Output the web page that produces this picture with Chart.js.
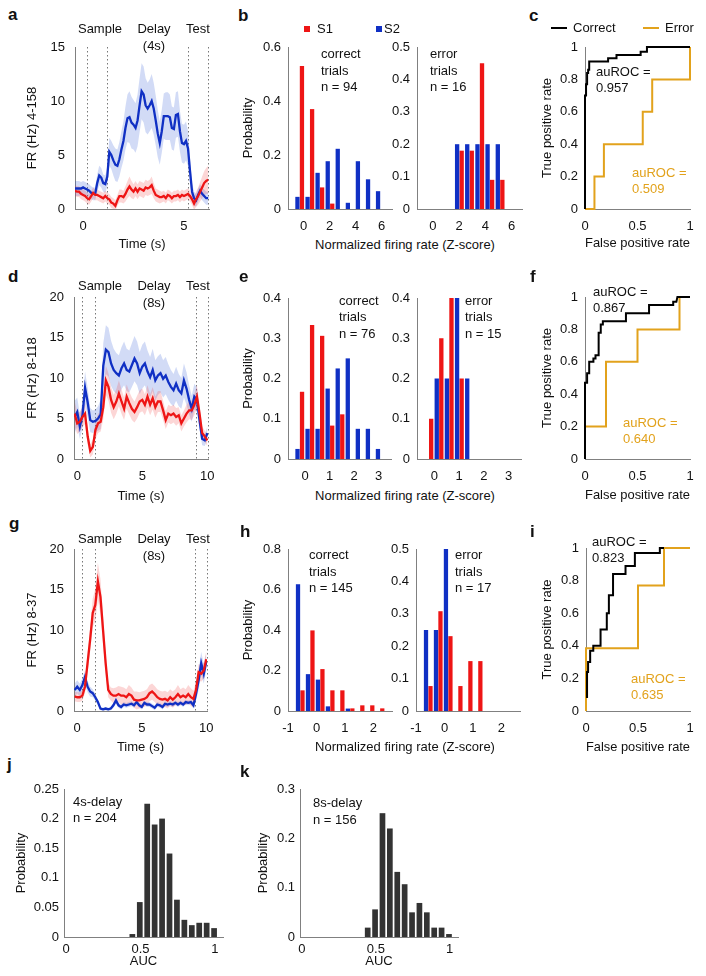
<!DOCTYPE html>
<html>
<head>
<meta charset="utf-8">
<script src="https://cdn.jsdelivr.net/npm/chart.js@4.4.1/dist/chart.umd.min.js"></script>
<style>
  body { margin: 0; width: 706px; height: 976px; position: relative; overflow: hidden; background: #fff;
         font-family: "Liberation Sans", Arial, sans-serif; color: #111; }
  canvas { position: absolute; }
  .t { position: absolute; font-size: 13px; line-height: 16px; white-space: nowrap; }
  .lt { position: absolute; font-size: 17px; line-height: 17px; font-weight: bold; }
  .sq { position: absolute; width: 6px; height: 6px; }
  .ln { position: absolute; width: 16px; height: 2px; }
</style>
</head>
<body>
<script>
// ---------- data ----------
// a: 4 s delay neuron, firing rate (Hz), S1 = red, S2 = blue
const aTime = seq(-0.4, 6.2, 0.1);
const aS1 = [1.7,1.6,1.6,1.4,1.3,1.2,1.0,0.9,1.2,1.5,1.3, 1.3,1.2,1.1,1.0,1.2,1.0, 0.9,0.6,0.5,0.3,0.8,1.2,1.2,1.1,
  1.4,1.8,2.1,1.8,1.6,1.9,1.6,1.9,1.8,1.7, 2.0,1.9,2.0,2.2,1.7,1.3,1.2,1.1,1.1,1.2, 1.0,1.3,1.2,1.0,1.2,1.2,1.3,1.1,1.3,1.2,
  1.3,1.4,1.2,0.9,0.5,0.9,1.2,1.6,2.0,2.4,2.6,2.7];
const aS1Sem = [0.5,0.5,0.5,0.5,0.5,0.5,0.5,0.5,0.5,0.5,0.5, 0.5,0.5,0.5,0.5,0.5,0.5, 0.5,0.5,0.5,0.5,0.5,0.6,0.6,0.6,
  0.7,0.8,0.9,0.8,0.7,0.7,0.7,0.7,0.7,0.7, 0.7,0.7,0.7,0.8,0.7,0.6,0.6,0.6,0.5,0.5, 0.5,0.5,0.5,0.5,0.5,0.5,0.5,0.5,0.5,0.5,
  0.5,0.5,0.5,0.5,0.6,0.7,0.8,0.9,1.0,1.1,1.2,1.3];
const aS2 = [1.9,1.9,1.9,1.9,2.0,1.9,1.8,1.7,1.5,1.4,1.4, 2.4,3.1,2.9,2.4,2.3,3.0, 5.3,5.0,4.5,4.1,4.0,4.6,5.5,6.3,
  7.5,8.4,8.5,8.0,7.8,7.5,8.2,9.6,10.9,10.6, 9.6,9.3,9.6,10.0,9.3,8.2,7.0,6.1,7.2,8.6, 8.6,8.6,8.5,7.5,7.4,8.7,8.8,7.2,6.1,6.0,
  6.3,5.6,3.5,1.6,1.0,0.8,1.3,1.7,1.4,1.2,1.0,1.0];
const aS2Sem = [0.7,0.7,0.7,0.6,0.6,0.6,0.6,0.6,0.6,0.6,0.6, 0.8,0.9,0.9,0.8,0.8,0.9, 1.3,1.3,1.4,1.5,1.5,1.6,1.7,1.8,
  2.0,2.2,2.4,2.4,2.3,2.3,2.4,2.5,2.6,2.6, 2.5,2.4,2.4,2.5,2.4,2.3,2.2,2.0,2.0,2.1, 2.2,2.2,2.1,2.0,2.0,2.1,2.1,1.9,1.8,1.8,
  1.8,1.6,1.2,0.8,0.6,0.6,0.6,0.6,0.6,0.6,0.6,0.6];
const aEvents = [0.2, 1.2, 5.2, 6.2];

// d: 8 s delay neuron 8-118
const dTime = seq(-0.2, 10.0, 0.2);
const dS1 = [5.6,4.4,4.6,5.2,5.6,2.8,1.0,1.5,3.6,4.4,4.6, 6.4,9.7,8.9,7.3,6.4,7.1,8.1,7.1,6.2,7.7,6.9,
  6.2,5.8,6.4,7.1,7.3,6.7,7.7,6.7,7.5,6.4,7.1, 7.1,6.0,4.8,5.6,5.4,5.6,5.2,5.4,4.4,5.0,5.6, 6.0,6.0,6.7,7.7,5.6,3.2,2.8,2.3];
const dS1Sem = [1.6,1.3,1.2,1.2,1.3,1.0,0.8,0.9,1.1,1.2,1.2, 1.5,1.8,1.7,1.6,1.5,1.5,1.6,1.5,1.4,1.5,1.4,
  1.4,1.3,1.4,1.4,1.4,1.3,1.4,1.3,1.4,1.3,1.3, 1.3,1.2,1.1,1.1,1.1,1.1,1.1,1.0,1.0,1.0,1.1, 1.1,1.2,1.3,1.4,1.2,0.8,0.7,0.7];
const dS2 = [5.2,5.8,4.0,5.4,8.8,7.0,4.8,4.6,4.7,5.0,5.5, 11.5,13.5,13.2,11.8,11.0,10.6,10.3,11.2,11.8,11.0,10.8,
  11.6,12.4,11.8,10.6,11.4,11.8,10.8,10.1,11.0,9.7,10.3, 10.6,9.9,10.3,9.5,8.9,8.5,9.3,8.5,8.1,9.7,8.7, 7.3,6.2,7.7,7.3,4.8,2.5,2.3,3.2];
const dS2Sem = [2.0,1.8,1.5,1.6,2.0,1.8,1.5,1.4,1.4,1.5,1.8, 2.8,3.0,3.0,2.8,2.6,2.5,2.5,2.6,2.7,2.6,2.6,
  2.7,2.8,2.7,2.6,2.7,2.7,2.6,2.5,2.6,2.5,2.4, 2.4,2.3,2.3,2.2,2.1,2.0,2.1,2.0,1.9,2.1,2.0, 1.8,1.6,1.6,1.5,1.2,0.8,0.7,0.8];
const dEvents = [0.4, 1.37, 9.1, 10.05];

// g: 8 s delay neuron 8-37
const gTime = seq(-0.2, 10.0, 0.2);
const gS1 = [1.8,1.7,1.7,1.9,3.0,5.9,8.8,12.1,13.1,16.0,14.1, 10.0,5.9,2.6,2.1,1.9,1.9,2.1,1.9,1.9,1.7,2.1,
  1.9,1.4,1.3,1.3,1.4,1.5,1.7,2.2,2.4,2.1,1.7, 1.5,1.4,1.5,1.3,1.7,1.4,1.7,2.1,1.7,1.9,1.7, 2.1,1.7,1.5,2.6,4.8,4.6,5.0,6.4];
const gS1Sem = [0.6,0.6,0.6,0.6,0.8,1.2,1.5,1.8,2.0,2.3,2.2, 1.8,1.2,0.9,0.8,0.9,1.0,1.0,1.1,1.0,1.0,1.1,
  1.0,1.0,1.1,1.0,1.0,1.0,1.0,1.0,1.0,1.0,1.0, 1.0,1.0,1.0,1.0,1.0,1.0,1.0,1.1,1.0,1.0,1.0, 1.1,1.1,1.0,1.0,1.0,1.0,1.0,1.0];
const gS2 = [2.6,3.0,2.6,3.2,4.2,3.0,2.4,2.2,1.7,1.1,0.3, 0.2,0.3,0.2,0.3,0.7,1.3,0.7,0.5,0.8,0.7,0.8,
  0.9,0.7,1.1,0.7,0.5,1.0,0.8,0.8,0.6,0.4,0.8, 0.7,0.5,0.9,0.8,0.9,0.8,1.0,0.8,1.0,0.8,1.1, 1.0,1.1,0.7,2.1,3.8,5.9,4.6,6.1];
const gS2Sem = [0.8,0.8,0.8,0.8,0.8,0.7,0.6,0.5,0.4,0.3,0.2, 0.2,0.2,0.2,0.2,0.3,0.4,0.3,0.3,0.3,0.3,0.3,
  0.3,0.3,0.3,0.3,0.3,0.3,0.3,0.3,0.3,0.3,0.3, 0.3,0.3,0.3,0.3,0.3,0.3,0.3,0.3,0.3,0.3,0.3, 0.3,0.3,0.4,0.8,1.2,1.4,1.2,1.0];
const gEvents = [0.4, 1.37, 9.1, 10.05];

// b, e, h: histograms of normalized firing rate (z-score bin centres)
const bBins = [-0.3, 0.48, 1.25, 2.03, 2.8, 3.58, 4.35, 5.13, 5.9];
const bCorrectS1 = [0.53, 0.37, 0.08, 0.02, 0, 0, 0, 0, 0];
const bCorrectS2 = [0.045, 0.045, 0.134, 0.177, 0.223, 0.023, 0.177, 0.11, 0.066];
const bErrorS1 = [0, 0, 0, 0.18, 0.18, 0.45, 0.09, 0.09, 0];
const bErrorS2 = [0, 0, 0, 0.2, 0.2, 0.2, 0.2, 0.2, 0];

const eBins = [-0.22, 0.19, 0.6, 1.01, 1.42, 1.83, 2.24, 2.65, 3.06];
const eCorrectS1 = [0.167, 0.333, 0.306, 0.083, 0.111, 0, 0, 0, 0];
const eCorrectS2 = [0.025, 0.075, 0.075, 0.175, 0.225, 0.25, 0.075, 0.075, 0.025];
const eErrorS1 = [0.1, 0.3, 0.4, 0.2, 0, 0, 0, 0, 0];
const eErrorS2 = [0, 0.2, 0.2, 0.4, 0.2, 0, 0, 0, 0];

const hBins = [-0.57, -0.22, 0.13, 0.48, 0.83, 1.18, 1.53, 1.88, 2.23];
const hCorrectS1 = [0.102, 0.398, 0.207, 0.102, 0.102, 0.013, 0.028, 0.028, 0.013];
const hCorrectS2 = [0.626, 0.182, 0.155, 0.023, 0, 0.012, 0, 0, 0];
const hErrorS1 = [0.077, 0.308, 0.231, 0.077, 0.154, 0.154, 0, 0, 0];
const hErrorS2 = [0.25, 0.25, 0.5, 0, 0, 0, 0, 0, 0];

// c, f, i: ROC curves (false positive rate, true positive rate)
const cCorrectFpr = [0, 0, 0.01, 0.01, 0.02, 0.02, 0.03, 0.03, 0.04, 0.04, 0.22, 0.22, 0.3, 0.3, 0.53, 0.53, 0.59, 0.59, 1];
const cCorrectTpr = [0, 0.7, 0.7, 0.77, 0.77, 0.84, 0.84, 0.86, 0.86, 0.91, 0.91, 0.93, 0.93, 0.95, 0.95, 0.97, 0.97, 1, 1];
const cErrorFpr = [0, 0.09, 0.09, 0.18, 0.18, 0.55, 0.55, 0.64, 0.64, 1, 1];
const cErrorTpr = [0, 0, 0.2, 0.2, 0.4, 0.4, 0.6, 0.6, 0.8, 0.8, 1];

const fCorrectFpr = [0, 0, 0.02, 0.02, 0.04, 0.04, 0.08, 0.08, 0.1, 0.1, 0.13, 0.13, 0.15, 0.15, 0.17, 0.17, 0.39, 0.39, 0.61, 0.61, 0.84, 0.84, 0.87, 0.88, 1];
const fCorrectTpr = [0, 0.47, 0.47, 0.53, 0.53, 0.6, 0.6, 0.62, 0.62, 0.64, 0.64, 0.78, 0.78, 0.83, 0.83, 0.85, 0.85, 0.9, 0.9, 0.95, 0.95, 0.97, 0.97, 1, 1];
const fErrorFpr = [0, 0, 0.2, 0.2, 0.5, 0.5, 0.9, 0.9, 1];
const fErrorTpr = [0, 0.2, 0.2, 0.6, 0.6, 0.8, 0.8, 1, 1];

const iCorrectFpr = [0.01, 0.01, 0.02, 0.02, 0.04, 0.04, 0.07, 0.07, 0.14, 0.14, 0.2, 0.2, 0.22, 0.22, 0.26, 0.26, 0.38, 0.38, 0.47, 0.47, 0.71, 0.71, 0.75];
const iCorrectTpr = [0.08, 0.24, 0.24, 0.3, 0.3, 0.37, 0.37, 0.4, 0.4, 0.5, 0.5, 0.6, 0.6, 0.71, 0.71, 0.84, 0.84, 0.89, 0.89, 0.97, 0.97, 1, 1];
const iErrorFpr = [0, 0, 0.5, 0.5, 0.75, 0.75, 1];
const iErrorTpr = [0, 0.385, 0.385, 0.77, 0.77, 1, 1];

// j, k: AUC distributions
const aucBins = [0.445, 0.495, 0.545, 0.595, 0.645, 0.695, 0.745, 0.795, 0.845, 0.895, 0.945, 0.995];
const jProb4s = [0.005, 0.059, 0.225, 0.19, 0.2, 0.141, 0.063, 0.029, 0.02, 0.024, 0.024, 0.015];
const kProb8s = [0.019, 0.056, 0.251, 0.22, 0.132, 0.107, 0.05, 0.069, 0.05, 0.019, 0.019, 0.006];

// ---------- styling ----------
const RED = '#ee1515', BLUE = '#1030c4';
const RED_BAND = 'rgba(240,50,50,0.2)', BLUE_BAND = 'rgba(50,90,215,0.22)';
const ORANGE = '#e2a21c', AXIS = '#808080', GREY_BAR = '#333';

Chart.defaults.font.family = '"Liberation Sans", Arial, sans-serif';
Chart.defaults.font.size = 13;
Chart.defaults.color = '#111';

function seq(a, b, step) {
  const out = [];
  for (let v = a; v <= b + step / 2; v += step) out.push(Math.round(v * 100) / 100);
  return out;
}

function fmt(v) { return String(Math.round(v * 1000) / 1000); }

function axis(range, ticks, size, title, isX, pad) {
  return {
    type: 'linear', min: range[0], max: range[1], offset: false,
    afterBuildTicks: s => { s.ticks = ticks.map(v => ({ value: v })); },
    afterFit: s => { if (isX) s.height = size; else s.width = size; },
    grid: { display: false, drawTicks: false, offset: false },
    border: { display: true, color: AXIS, width: 1 },
    ticks: { padding: pad, autoSkip: false, maxRotation: 0, callback: fmt },
    title: title ? { display: true, text: title, padding: 0 } : { display: false }
  };
}

function eventLines(events) {
  return {
    id: 'eventLines',
    beforeDatasetsDraw(chart) {
      const { ctx, chartArea, scales } = chart;
      ctx.save();
      ctx.strokeStyle = '#777';
      ctx.lineWidth = 1;
      ctx.setLineDash([1.5, 2.5]);
      events.forEach(t => {
        const x = Math.round(scales.x.getPixelForValue(t)) + 0.5;
        ctx.beginPath();
        ctx.moveTo(x, chartArea.top);
        ctx.lineTo(x, chartArea.bottom);
        ctx.stroke();
      });
      ctx.restore();
    }
  };
}

// p.l/r/t/b is the plot area on the page; canvas is padded around it
function makeChart(p, type, datasets) {
  const padT = 22, padR = 22;
  const w = p.r - p.l + p.wy + padR;
  const h = p.b - p.t + padT + p.hx;
  const cv = document.createElement('canvas');
  cv.width = w; cv.height = h;
  cv.style.left = (p.l - p.wy) + 'px';
  cv.style.top = (p.t - padT) + 'px';
  document.body.appendChild(cv);
  const xPad = p.xPad !== undefined ? p.xPad : 10;
  const yPad = p.yPad !== undefined ? p.yPad : 7;
  return new Chart(cv, {
    type: type,
    data: { datasets: datasets },
    options: {
      responsive: false, devicePixelRatio: 1, animation: false,
      layout: { padding: { top: padT, right: padR, left: 0, bottom: 0 } },
      plugins: { legend: { display: false }, tooltip: { enabled: false } },
      scales: {
        x: axis(p.xr, p.xt, p.hx, p.xTitle, true, xPad),
        y: axis(p.yr, p.yt, p.wy, p.yTitle, false, yPad)
      }
    },
    plugins: p.events ? [eventLines(p.events)] : []
  });
}

function timeSets(time, s1, s1Sem, s2, s2Sem) {
  const pts = ys => time.map((t, i) => ({ x: t, y: ys[i] }));
  const up = (m, e) => m.map((v, i) => v + e[i]);
  const lo = (m, e) => m.map((v, i) => v - e[i]);
  const line = (ys, c) => ({ data: pts(ys), borderColor: c, borderWidth: 2.3, pointRadius: 0, tension: 0, fill: false });
  const band = (ys, c, fill) => ({ data: pts(ys), borderWidth: 0, borderColor: 'rgba(0,0,0,0)', backgroundColor: c,
                                   pointRadius: 0, tension: 0, fill: fill });
  return [
    line(s1, RED), line(s2, BLUE),
    band(up(s1, s1Sem), RED_BAND, '+1'), band(lo(s1, s1Sem), RED_BAND, false),
    band(up(s2, s2Sem), BLUE_BAND, '+1'), band(lo(s2, s2Sem), BLUE_BAND, false)
  ];
}

function histSets(bins, s1, s2) {
  const pts = ys => bins.map((b, i) => ({ x: b, y: ys[i] }));
  const bar = (ys, c) => ({ data: pts(ys), backgroundColor: c, borderWidth: 0,
                            categoryPercentage: 0.9, barPercentage: 0.95, grouped: true });
  return [bar(s2, BLUE), bar(s1, RED)];
}

function aucSets(bins, ys) {
  return [{ data: bins.map((b, i) => ({ x: b, y: ys[i] })), backgroundColor: GREY_BAR, borderWidth: 0,
            categoryPercentage: 1, barPercentage: 0.77 }];
}

function rocSets(cx, cy, ex, ey) {
  const pts = (xs, ys) => xs.map((x, i) => ({ x: x, y: ys[i] }));
  return [
    { data: pts(cx, cy), borderColor: '#000', borderWidth: 2, pointRadius: 0, tension: 0, fill: false, clip: 6 },
    { data: pts(ex, ey), borderColor: ORANGE, borderWidth: 2, pointRadius: 0, tension: 0, fill: false, clip: 6 }
  ];
}

// ---------- text helpers ----------
function txt(s, x, y, color, center) {
  const d = document.createElement('div');
  d.className = 't';
  d.textContent = s;
  d.style.left = x + 'px';
  d.style.top = y + 'px';
  d.style.transform = center ? 'translate(-50%,-50%)' : 'translate(0,-50%)';
  if (color) d.style.color = color;
  document.body.appendChild(d);
}
function lines(arr, x, y, dy, color) { arr.forEach((s, i) => txt(s, x, y + i * dy, color)); }
function letter(s, x, baseline) {
  const d = document.createElement('div');
  d.className = 'lt';
  d.textContent = s;
  d.style.left = (x - 5) + 'px';
  d.style.top = (baseline - 14) + 'px';
  document.body.appendChild(d);
}
function box(cls, x, y, color) {
  const d = document.createElement('div');
  d.className = cls;
  d.style.left = x + 'px'; d.style.top = y + 'px'; d.style.background = color;
  document.body.appendChild(d);
}

// ---------- panels ----------
const yt15 = [0, 5, 10, 15], yt20 = [0, 5, 10, 15, 20];
const rocTicks = [0, 0.2, 0.4, 0.6, 0.8, 1];

makeChart({ l: 75, r: 209, t: 47, b: 209, wy: 50, hx: 43, xr: [-0.4, 6.24], yr: [0, 15], xt: [0, 5], yt: yt15, yPad: 10,
  xTitle: 'Time (s)', yTitle: 'FR (Hz) 4-158', events: aEvents }, 'line', timeSets(aTime, aS1, aS1Sem, aS2, aS2Sem));
makeChart({ l: 74, r: 208, t: 297, b: 459, wy: 49, hx: 45, xr: [-0.25, 10.05], yr: [0, 20], xt: [0, 5, 10], yt: yt20, yPad: 10,
  xTitle: 'Time (s)', yTitle: 'FR (Hz) 8-118', events: dEvents }, 'line', timeSets(dTime, dS1, dS1Sem, dS2, dS2Sem));
makeChart({ l: 74, r: 207, t: 549, b: 711, wy: 49, hx: 44, xr: [-0.25, 10.05], yr: [0, 20], xt: [0, 5, 10], yt: yt20, yPad: 10,
  xTitle: 'Time (s)', yTitle: 'FR (Hz) 8-37', events: gEvents }, 'line', timeSets(gTime, gS1, gS1Sem, gS2, gS2Sem));

makeChart({ l: 288, r: 392, t: 47, b: 209, wy: 47, hx: 26, xr: [-1.2, 6.8], yr: [0, 0.6], xt: [0, 2, 4, 6],
  yt: [0, 0.2, 0.4, 0.6], yTitle: 'Probability' }, 'bar', histSets(bBins, bCorrectS1, bCorrectS2));
makeChart({ l: 417, r: 522, t: 47, b: 209, wy: 30, hx: 26, xr: [-1.2, 6.8], yr: [0, 0.5], xt: [0, 2, 4, 6],
  yt: [0, 0.1, 0.2, 0.3, 0.4, 0.5] }, 'bar', histSets(bBins, bErrorS1, bErrorS2));
makeChart({ l: 288, r: 391, t: 298, b: 459, wy: 47, hx: 26, xr: [-0.7, 3.5], yr: [0, 0.4], xt: [0, 1, 2, 3],
  yt: [0, 0.1, 0.2, 0.3, 0.4], yTitle: 'Probability' }, 'bar', histSets(eBins, eCorrectS1, eCorrectS2));
makeChart({ l: 417, r: 521, t: 298, b: 459, wy: 30, hx: 26, xr: [-0.7, 3.5], yr: [0, 0.4], xt: [0, 1, 2, 3],
  yt: [0, 0.1, 0.2, 0.3, 0.4] }, 'bar', histSets(eBins, eErrorS1, eErrorS2));
makeChart({ l: 288, r: 392, t: 549, b: 711, wy: 47, hx: 26, xr: [-1, 2.65], yr: [0, 0.8], xt: [-1, 0, 1, 2],
  yt: [0, 0.2, 0.4, 0.6, 0.8], yTitle: 'Probability' }, 'bar', histSets(hBins, hCorrectS1, hCorrectS2));
makeChart({ l: 416, r: 520, t: 549, b: 711, wy: 30, hx: 26, xr: [-1, 2.65], yr: [0, 0.5], xt: [-1, 0, 1, 2],
  yt: [0, 0.1, 0.2, 0.3, 0.4, 0.5] }, 'bar', histSets(hBins, hErrorS1, hErrorS2));

makeChart({ l: 585, r: 690, t: 47, b: 209, wy: 45, hx: 42, xr: [0, 1], yr: [0, 1], xt: [0, 0.5, 1], yt: rocTicks,
  xTitle: 'False positive rate', yTitle: 'True positive rate' }, 'line', rocSets(cCorrectFpr, cCorrectTpr, cErrorFpr, cErrorTpr));
makeChart({ l: 585, r: 690, t: 297, b: 459, wy: 45, hx: 44, xr: [0, 1], yr: [0, 1], xt: [0, 0.5, 1], yt: rocTicks,
  xTitle: 'False positive rate', yTitle: 'True positive rate' }, 'line', rocSets(fCorrectFpr, fCorrectTpr, fErrorFpr, fErrorTpr));
makeChart({ l: 586, r: 690, t: 548, b: 711, wy: 46, hx: 44, xr: [0, 1], yr: [0, 1], xt: [0, 0.5, 1], yt: rocTicks,
  xTitle: 'False positive rate', yTitle: 'True positive rate' }, 'line', rocSets(iCorrectFpr, iCorrectTpr, iErrorFpr, iErrorTpr));

makeChart({ l: 64, r: 223, t: 789, b: 937, wy: 50, hx: 32, xr: [-0.015, 1.055], yr: [0, 0.25], xt: [0, 0.5, 1], xPad: 5, yPad: 5,
  yt: [0, 0.05, 0.1, 0.15, 0.2, 0.25], xTitle: 'AUC', yTitle: 'Probability' }, 'bar', aucSets(aucBins, jProb4s));
makeChart({ l: 300, r: 458, t: 789, b: 937, wy: 44, hx: 32, xr: [-0.013, 1.056], yr: [0, 0.3], xt: [0, 0.5, 1], xPad: 5, yPad: 5,
  yt: [0, 0.1, 0.2, 0.3], xTitle: 'AUC', yTitle: 'Probability' }, 'bar', aucSets(aucBins, kProb8s));

// ---------- annotations ----------
[['a', 13, 20], ['b', 243, 21], ['c', 534, 21], ['d', 13, 282], ['e', 244, 282], ['f', 535, 282],
 ['g', 14, 529], ['h', 245, 537], ['i', 535, 537], ['j', 12, 770], ['k', 245, 777]].forEach(l => letter(l[0], l[1], l[2]));

[[29, 46], [286, 303], [539, 556]].forEach((r, i) => {
  txt('Sample', 100, r[0], null, true);
  txt('Delay', 154, r[0], null, true);
  txt(i === 0 ? '(4s)' : '(8s)', 154, r[1], null, true);
  txt('Test', 198, r[0], null, true);
});

box('sq', 304, 26, RED); txt('S1', 317, 29);
box('sq', 376, 26, BLUE); txt('S2', 384, 29);

lines(['correct', 'trials', 'n = 94'], 321, 54, 16.7);
lines(['error', 'trials', 'n = 16'], 430, 54, 16.7);
lines(['correct', 'trials', 'n = 76'], 339, 301, 16.3);
lines(['error', 'trials', 'n = 15'], 465, 301, 16.3);
lines(['correct', 'trials', 'n = 145'], 309, 555, 16.7);
lines(['error', 'trials', 'n = 17'], 455, 555, 16.7);
txt('Normalized firing rate (Z-score)', 405, 245, null, true);
txt('Normalized firing rate (Z-score)', 405, 496, null, true);
txt('Normalized firing rate (Z-score)', 405, 747, null, true);

box('ln', 551, 27, '#000'); txt('Correct', 573, 28);
box('ln', 643, 27, ORANGE); txt('Error', 665, 28);

lines(['auROC =', '0.957'], 596, 72, 16.3);
lines(['auROC =', '0.509'], 632, 173, 16.3, ORANGE);
lines(['auROC =', '0.867'], 593, 292, 15.6);
lines(['auROC =', '0.640'], 623, 423, 16.3, ORANGE);
lines(['auROC =', '0.823'], 592, 542, 15.6);
lines(['auROC =', '0.635'], 631, 679, 16.3, ORANGE);

lines(['4s-delay', 'n = 204'], 73, 802, 16.3);
lines(['8s-delay', 'n = 156'], 313, 803, 17);
</script>
</body>
</html>
